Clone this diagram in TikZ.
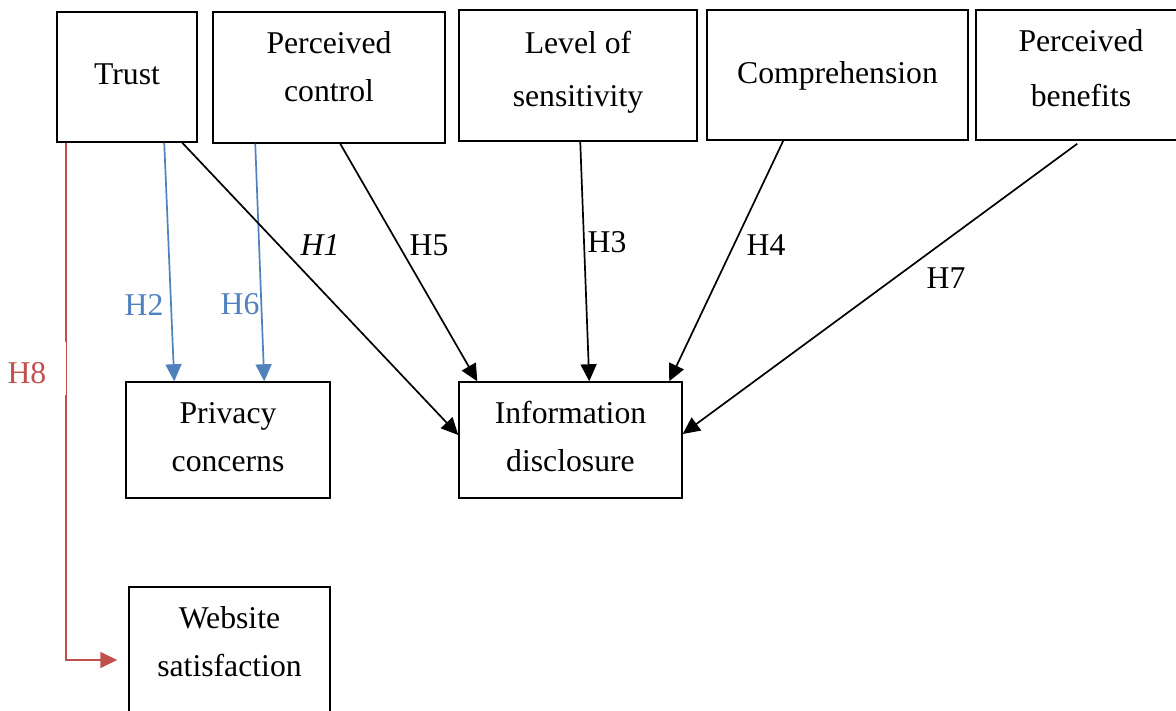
\documentclass[tikz,border=0pt]{standalone}
\usepackage{fontspec}
\setmainfont{Liberation Serif}
\usetikzlibrary{arrows.meta}
\definecolor{hblue}{RGB}{79,129,189}
\definecolor{hred}{RGB}{192,80,77}
\tikzset{
  box/.style={draw=black, line width=1.5pt, align=center, inner sep=0pt,
    text height=22pt, font=\fontsize{31.7}{48}\selectfont},
  arr/.style={line width=1.7pt, -{Triangle[length=17pt,width=16pt]}},
  lab/.style={font=\fontsize{31.7}{38}\selectfont, inner sep=0pt}
}
\begin{document}
\begin{tikzpicture}[x=1pt,y=-1pt]
\useasboundingbox (0,0) rectangle (1176,711);
% nodes
\node[box, minimum width=140pt, minimum height=130pt, text depth=6pt] (trust) at (127,77) {Trust};
\node[box, minimum width=232pt, minimum height=131pt, text height=70pt, text depth=21.6pt] (pcontrol) at (329,77.5) {Perceived\\control};
\node[box, minimum width=238pt, minimum height=131pt, text height=75pt, text depth=12.6pt] (level) at (578,75.5) {Level of\\[5pt]sensitivity};
\node[box, minimum width=261pt, minimum height=130pt, text depth=5.4pt] (comp) at (837.5,75) {Comprehension};
\node[box, minimum width=210pt, minimum height=130pt, text height=77pt, text depth=13pt] (benefits) at (1081,75) {Perceived\\[7pt]benefits};
\node[box, minimum width=204pt, minimum height=116pt, text height=70pt, text depth=6.6pt] (privacy) at (228,440) {Privacy\\concerns};
\node[box, minimum width=223pt, minimum height=116pt, text height=70pt, text depth=6.6pt] (info) at (570.5,440) {Information\\disclosure};
\node[box, minimum width=201pt, minimum height=128pt, text height=70pt, text depth=18.6pt] (website) at (229.5,651) {Website\\satisfaction};
% connectors
\draw[arr, hred] ([xshift=10pt]trust.south west) |- ([xshift=-11pt,yshift=-9pt]website.west);
\draw[arr, hblue] ([xshift=108pt]trust.south west) -- ([xshift=49pt]privacy.north west);
\draw[arr, hblue] ([xshift=43pt]pcontrol.south west) -- ([xshift=139pt]privacy.north west);
\draw[arr] ([xshift=126pt]trust.south west) -- ([yshift=5pt]info.west);
\draw[arr] ([xshift=128pt]pcontrol.south west) -- ([xshift=19pt]info.north west);
\draw[arr] ([xshift=122pt]level.south west) -- ([xshift=131pt]info.north west);
\draw[arr] ([xshift=77pt]comp.south west) -- ([xshift=211pt]info.north west);
\draw[arr] ([xshift=102pt,yshift=-3pt]benefits.south west) -- ([yshift=6pt]info.east);
% labels
\node[lab] (l1) at (320,245) {\itshape H1};
\node[lab] (l5) at (429,245) {H5};
\node[lab] (l3) at (607,242) {H3};
\node[lab] (l4) at (766,245) {H4};
\node[lab] (l7) at (946,278) {H7};
\node[lab, text=hblue] (l2) at (144,305) {H2};
\node[lab, text=hblue] (l6) at (240,304) {H6};
\node[lab, text=hred, fill=white, text width=58.5pt, align=left, minimum height=53pt,
  text height=29.8pt, text depth=0pt, anchor=east] (l8) at (66.3,368.5) {H8};
\end{tikzpicture}
\end{document}
